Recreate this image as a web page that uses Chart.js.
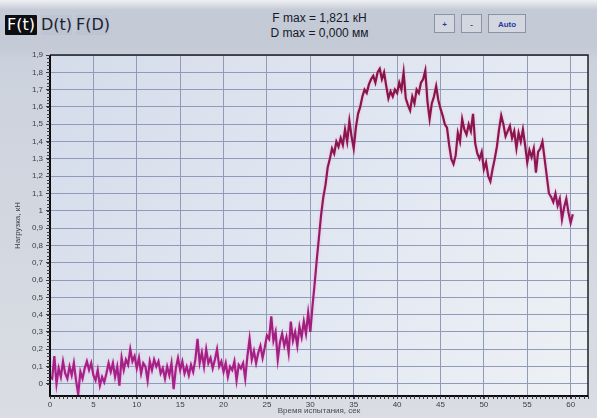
<!DOCTYPE html>
<html lang="ru">
<head>
<meta charset="utf-8">
<title>F(t)</title>
<script src="https://cdn.jsdelivr.net/npm/chart.js@4/dist/chart.umd.min.js"></script>
<style>
  html, body { margin: 0; padding: 0; }
  body {
    width: 597px; height: 418px; overflow: hidden; position: relative;
    background: linear-gradient(180deg, #eef0f3 0px, #c4cad6 10px, #c3c9d5 46px, #ccd2dd 60px, #dadde3 418px);
    font-family: "Liberation Sans", Arial, sans-serif;
  }
  .toolbar { position: absolute; left: 0; top: 0; width: 597px; height: 46px; }
  .mode {
    position: absolute; top: 15px; height: 20px; line-height: 20px;
    font-family: "DejaVu Sans", sans-serif; font-size: 16px; color: #1d2233;
    text-align: center; background: #bec5d2; border-radius: 1px;
  }
  .mode.on { background: #0e0e12; color: #ffffff; }
  .info {
    position: absolute; left: 262px; width: 115px; text-align: center;
    font-family: "Liberation Sans", Arial, sans-serif; font-size: 12px; color: #15192a;
  }
  .btn {
    position: absolute; top: 14px; height: 19px; line-height: 19px;
    border: 1px solid #8c93a8; background: #d3d7e0; text-align: center;
    color: #2b3a9c; font-weight: bold; font-size: 8px; box-sizing: border-box;
  }
  #wrap { position: absolute; left: 0; top: 0; width: 597px; height: 418px; }
</style>
</head>
<body>
<div class="toolbar">
  <div class="mode on" style="left:5px;width:32px;">F(t)</div>
  <div class="mode" style="left:41px;width:31px;">D(t)</div>
  <div class="mode" style="left:76px;width:33px;">F(D)</div>
  <div class="info" style="top:11px;">F max = 1,821 кН</div>
  <div class="info" style="top:26px;">D max = 0,000 мм</div>
  <div class="btn" style="left:434px;width:21px;">+</div>
  <div class="btn" style="left:461px;width:21px;">-</div>
  <div class="btn" style="left:488px;width:38px;">Auto</div>
</div>
<div id="wrap"><canvas id="chart"></canvas></div>
<script>
// Sampling interval of the recorder, seconds
const sampleStep = 0.25;

// Load readings, kN (one value per sample, starting at t = 0)
const force = [
  0.04, 0.03, 0.16, 0.00,   0.09, 0.04, 0.13, 0.06,   0.03, 0.10, 0.05, 0.12,
  0.02, -0.06, 0.07, 0.03,  0.09, 0.13, 0.08, 0.12,   0.05, 0.02, 0.08, -0.01,
  0.04, 0.01, 0.06, 0.12,   0.07, 0.12, 0.04, 0.10,   -0.01, 0.15, 0.08, 0.14,
  0.11, 0.20, 0.13, 0.16,   0.09, 0.15, 0.06, 0.12,   0.10, 0.02, 0.13, 0.08,
  0.14, 0.10, 0.13, 0.06,   0.09, 0.03, 0.10, 0.05,   0.12, -0.03, 0.09, 0.15,
  0.08, 0.13, 0.06, 0.10,   0.05, 0.11, 0.07, 0.14,   0.26, 0.12, 0.18, 0.10,
  0.20, 0.12, 0.15, 0.09,   0.14, 0.20, 0.10, 0.13,   0.07, 0.12, 0.04, 0.10,
  0.08, 0.13, 0.02, 0.11,   0.09, 0.12, 0.03, 0.16,   0.26, 0.14, 0.19, 0.12,
  0.18, 0.22, 0.15, 0.21,   0.28, 0.26, 0.39, 0.25,   0.30, 0.14, 0.24, 0.29,
  0.22, 0.27, 0.18, 0.36,   0.25, 0.30, 0.22, 0.33,   0.27, 0.36, 0.29, 0.41,
  0.30, 0.45, 0.58, 0.72,   0.85, 0.98, 1.08, 1.15,   1.25, 1.30, 1.36, 1.33,
  1.40, 1.37, 1.42, 1.38,   1.47, 1.40, 1.52, 1.43,   1.36, 1.48, 1.56, 1.60,
  1.66, 1.70, 1.68, 1.73,   1.76, 1.78, 1.74, 1.80,   1.821, 1.76, 1.80, 1.72,
  1.65, 1.69, 1.66, 1.70,   1.68, 1.74, 1.70, 1.80,   1.65, 1.61, 1.58, 1.66,
  1.62, 1.70, 1.68, 1.74,   1.76, 1.81, 1.63, 1.53,   1.62, 1.66, 1.72, 1.64,
  1.59, 1.55, 1.50, 1.48,   1.38, 1.30, 1.27, 1.32,   1.45, 1.40, 1.53, 1.47,
  1.44, 1.50, 1.46, 1.56,   1.39, 1.33, 1.30, 1.34,   1.24, 1.28, 1.20, 1.17,
  1.24, 1.30, 1.37, 1.47,   1.55, 1.50, 1.43, 1.46,   1.49, 1.42, 1.46, 1.36,
  1.45, 1.40, 1.47, 1.38,   1.28, 1.35, 1.31, 1.36,   1.22, 1.34, 1.36, 1.40,
  1.30, 1.20, 1.10, 1.08,   1.05, 1.10, 1.03, 1.07,   0.95, 1.02, 1.07, 0.99,
  0.93, 0.98
];

// Axis limits and tick steps
const timeMin = 0, timeMax = 62, timeStep = 5;
const loadMin = -0.07, loadMax = 1.9, loadStep = 0.1;
const timeMinorStep = 0.5, loadMinorStep = 0.02;

const xTitle = 'Время испытания, сек';
const yTitle = 'Нагрузка, кН';

const points = force.map((v, i) => ({ x: i * sampleStep, y: v }));

const fmtLoad = v => {
  const r = Math.round(v * 10) / 10;
  return Number.isInteger(r) ? String(r) : r.toFixed(1).replace('.', ',');
};
const onStep = (v, step) => Math.abs(v / step - Math.round(v / step)) < 1e-6;

// Plot background, soft glow under the trace, frame and minor tick marks
const framePlugin = {
  id: 'frame',
  beforeDraw(chart) {
    const { ctx, chartArea: a } = chart;
    const g = ctx.createLinearGradient(a.left, a.top, a.right, a.bottom);
    g.addColorStop(0, '#d5dcea');
    g.addColorStop(0.55, '#e2e8f2');
    g.addColorStop(1, '#eef1f5');
    ctx.save();
    ctx.fillStyle = g;
    ctx.fillRect(a.left, a.top, a.right - a.left, a.bottom - a.top);
    ctx.restore();
  },
  beforeDatasetsDraw(chart) {
    const ctx = chart.ctx;
    ctx.save();
    ctx.shadowColor = 'rgba(235, 160, 205, 0.75)';
    ctx.shadowBlur = 3;
  },
  afterDatasetsDraw(chart) {
    chart.ctx.restore();
  },
  afterDraw(chart) {
    const { ctx, chartArea: a, scales } = chart;
    ctx.save();
    ctx.strokeStyle = '#202024';
    ctx.lineWidth = 1.5;
    ctx.beginPath();
    ctx.moveTo(a.left, a.top); ctx.lineTo(a.right, a.top); ctx.lineTo(a.right, a.bottom);
    ctx.stroke();
    ctx.strokeStyle = '#0c0c0e';
    ctx.lineWidth = 2;
    ctx.beginPath();
    ctx.moveTo(a.left, a.top); ctx.lineTo(a.left, a.bottom); ctx.lineTo(a.right, a.bottom);
    ctx.stroke();
    ctx.strokeStyle = '#3a3a40';
    ctx.lineWidth = 1;
    ctx.beginPath();
    for (let t = timeMin; t <= timeMax + 1e-9; t += timeMinorStep) {
      const px = Math.round(scales.x.getPixelForValue(t)) + 0.5;
      ctx.moveTo(px, a.bottom); ctx.lineTo(px, a.bottom + 3);
    }
    for (let v = 0; v <= loadMax + 1e-9; v += loadMinorStep) {
      const py = Math.round(scales.y.getPixelForValue(v)) + 0.5;
      ctx.moveTo(a.left - 3, py); ctx.lineTo(a.left, py);
    }
    ctx.stroke();
    ctx.restore();
  }
};

// Stroke colour shifts from magenta near zero to crimson at the top
const lineColor = ctx => {
  const { chart } = ctx;
  const a = chart.chartArea;
  if (!a) return '#9c1f80';
  const g = chart.ctx.createLinearGradient(0, a.bottom, 0, a.top);
  g.addColorStop(0, '#a8228f');
  g.addColorStop(0.35, '#9a1c72');
  g.addColorStop(0.7, '#8c1650');
  g.addColorStop(1, '#861446');
  return g;
};

const tickFont = { family: '"Liberation Sans", Arial, sans-serif', size: 8 };

new Chart(document.getElementById('chart'), {
  type: 'line',
  data: {
    datasets: [{
      data: points,
      borderColor: lineColor,
      borderWidth: 2.2,
      borderJoinStyle: 'miter',
      pointRadius: 0,
      tension: 0,
      fill: false
    }]
  },
  options: {
    responsive: true,
    maintainAspectRatio: false,
    animation: false,
    layout: { padding: { top: 55, right: 9, left: 0, bottom: 0 } },
    plugins: { legend: { display: false }, tooltip: { enabled: false } },
    scales: {
      x: {
        type: 'linear',
        min: timeMin, max: timeMax,
        afterBuildTicks: s => { s.ticks = s.ticks.filter(t => onStep(t.value, timeStep)); },
        afterFit: s => { s.height = 22; },
        ticks: { stepSize: timeStep, color: '#3c3d45', font: tickFont, padding: 1, maxRotation: 0,
                 callback: v => String(v) },
        grid: { color: '#8f9bb8', lineWidth: 1, tickLength: 3, tickColor: '#3a3a40' },
        border: { display: false },
        title: { display: true, text: xTitle, color: '#4a4b55', font: tickFont,
                 padding: { top: 0, bottom: 2 } }
      },
      y: {
        type: 'linear',
        min: loadMin, max: loadMax,
        afterBuildTicks: s => { s.ticks = s.ticks.filter(t => onStep(t.value, loadStep)); },
        afterFit: s => { s.width = 50; },
        ticks: { stepSize: loadStep, color: '#3c3d45', font: tickFont, padding: 3,
                 callback: v => fmtLoad(v) },
        grid: { color: '#8f9bb8', lineWidth: 1, tickLength: 4, tickColor: '#3a3a40' },
        border: { display: false },
        title: { display: true, text: yTitle, color: '#3c3d45', font: tickFont,
                 padding: { top: 13, bottom: 0 } }
      }
    }
  },
  plugins: [framePlugin]
});
</script>
</body>
</html>
